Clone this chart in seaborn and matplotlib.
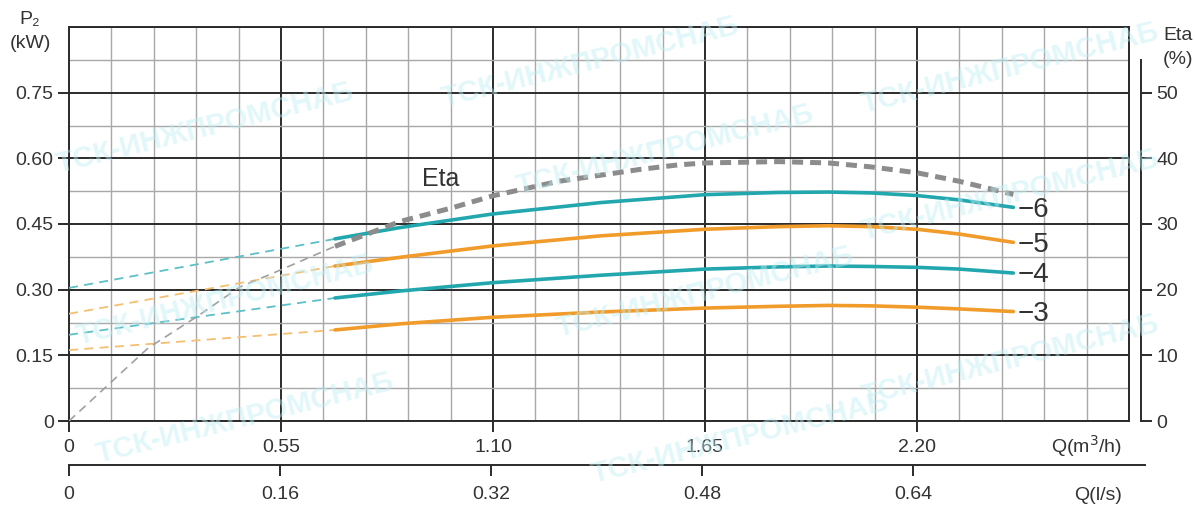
import numpy as np
import matplotlib
matplotlib.use("Agg")
import matplotlib.pyplot as plt
import seaborn as sns

# ---------------- data ----------------
q_curve = [0.69, 0.86, 1.10, 1.38, 1.65, 1.84, 1.97, 2.08, 2.20, 2.31, 2.45]
p2_6 = [0.416, 0.442, 0.473, 0.499, 0.517, 0.522, 0.523, 0.521, 0.515, 0.505, 0.488]
p2_5 = [0.354, 0.374, 0.400, 0.423, 0.438, 0.444, 0.446, 0.444, 0.438, 0.427, 0.408]
p2_4 = [0.281, 0.297, 0.316, 0.333, 0.347, 0.352, 0.354, 0.353, 0.351, 0.347, 0.338]
p2_3 = [0.208, 0.222, 0.237, 0.249, 0.258, 0.262, 0.264, 0.263, 0.260, 0.256, 0.250]

q_ext = [0.0, 0.69]
ext_6 = [0.304, 0.416]
ext_5 = [0.245, 0.354]
ext_4 = [0.197, 0.281]
ext_3 = [0.162, 0.208]

q_eta = [0.69, 0.86, 0.99, 1.10, 1.27, 1.48, 1.58, 1.65, 1.84, 1.97, 2.08, 2.20, 2.31, 2.45]
eta = [26.6, 30.4, 32.4, 34.3, 36.5, 38.3, 39.0, 39.3, 39.5, 39.3, 38.7, 37.8, 36.5, 34.5]
q_eta_ext = [0.0, 0.205, 0.332, 0.443, 0.521, 0.69]
eta_ext = [0.0, 11.1, 15.9, 20.4, 22.3, 26.6]

curve_labels = ["−6", "−5", "−4", "−3"]
x_ticks_m3h = [0, 0.55, 1.10, 1.65, 2.20]
x_ticklabels_m3h = ["0", "0.55", "1.10", "1.65", "2.20"]
y_ticks_kw = [0, 0.15, 0.30, 0.45, 0.60, 0.75]
y_ticklabels_kw = ["0", "0.15", "0.30", "0.45", "0.60", "0.75"]
eta_ticks = [0, 10, 20, 30, 40, 50]
ls_ticks = [0, 0.16, 0.32, 0.48, 0.64]
ls_ticklabels = ["0", "0.16", "0.32", "0.48", "0.64"]

# ---------------- style ----------------
sns.set_theme(style="white")
plt.rcParams['font.family'] = ['Liberation Sans', 'DejaVu Sans']

TEAL = "#23a7ae"
ORANGE = "#f09b2a"
TEAL_L = "#5cc0c6"
ORANGE_L = "#f5bf72"
GRAY = "#8c8c8c"
DARK = "#2b2b2b"
TXT = "#333333"
FS = 14

W, H = 1195, 508
fig = plt.figure(figsize=(W / 100, H / 100), dpi=100)
fig.patch.set_facecolor("white")

L, R, T, B = 69, 1129, 27, 421
ax = fig.add_axes([L / W, 1 - B / H, (R - L) / W, (B - T) / H])
ax.set_xlim(0, 2.75)
ax.set_ylim(0, 0.90)

# grid
for xv in np.arange(0, 2.7501, 0.11):
    major = abs((xv / 0.55) - round(xv / 0.55)) < 1e-6
    ax.axvline(xv, color=DARK if major else "#a8a8a8", lw=1.4 if major else 1.0, zorder=1)
for yv in np.arange(0, 0.9001, 0.075):
    major = abs((yv / 0.15) - round(yv / 0.15)) < 1e-6
    ax.axhline(yv, color=DARK if major else "#a8a8a8", lw=1.4 if major else 1.0, zorder=1)

for s in ax.spines.values():
    s.set_color(DARK)
    s.set_linewidth(1.4)

ax.set_xticks(x_ticks_m3h)
ax.set_xticklabels(x_ticklabels_m3h)
ax.set_yticks(y_ticks_kw)
ax.set_yticklabels(y_ticklabels_kw)
ax.tick_params(axis="both", direction="out", length=8, width=1.4, color=DARK,
               labelsize=FS, labelcolor=TXT, bottom=True, left=True)
ax.tick_params(axis="x", pad=5)
ax.tick_params(axis="y", pad=3)
ax.set_xlabel("")
ax.set_ylabel("")

# dashed extensions
for yy, col in [(ext_6, TEAL_L), (ext_5, ORANGE_L), (ext_4, TEAL_L), (ext_3, ORANGE_L)]:
    sns.lineplot(x=q_ext, y=yy, ax=ax, color=col, lw=1.3, linestyle=(0, (5, 3.5)), zorder=3)

# main curves
curves = [(p2_6, TEAL), (p2_5, ORANGE), (p2_4, TEAL), (p2_3, ORANGE)]
for (yy, col), lab in zip(curves, curve_labels):
    sns.lineplot(x=q_curve, y=yy, ax=ax, color=col, lw=2.6, zorder=4, sort=False,
                 estimator=None)
    ax.text(q_curve[-1] + 0.012, yy[-1] - 0.005, lab, fontsize=20, color=TXT,
            va="center", ha="left", zorder=6)

ax.text(0.963, 0.553, "Eta", fontsize=18, color=TXT, ha="center", va="center", zorder=6)

# efficiency axis
ax_e = ax.twinx()
ax_e.set_ylim(0, 60)
ax_e.set_xlim(0, 2.75)
for k, s in ax_e.spines.items():
    s.set_visible(k == "right")
ax_e.spines["right"].set_position(("axes", (1141 - L) / (R - L)))
ax_e.spines["right"].set_bounds(0, 55)
ax_e.spines["right"].set_color(DARK)
ax_e.spines["right"].set_linewidth(1.4)
ax_e.set_yticks(eta_ticks)
ax_e.tick_params(axis="y", direction="out", length=8, width=1.4, color=DARK,
                 labelsize=FS, labelcolor=TXT, pad=3, right=True)
ax_e.grid(False)

sns.lineplot(x=q_eta_ext, y=eta_ext, ax=ax_e, color="#a0a0a0", lw=1.2,
             linestyle=(0, (5, 3.5)), zorder=3)
sns.lineplot(x=q_eta, y=eta, ax=ax_e, color=GRAY, lw=3.6, linestyle=(0, (2.2, 1.4)),
             zorder=5, sort=False, estimator=None)
ax_e.set_ylabel("")

# second flow axis (l/s)
ax_ls = fig.add_axes([L / W, 1 - 465 / H, (1145 - L) / W, 0.0001])
ax_ls.set_xlim(0, (1145 - L) / 211 * 0.16)
ax_ls.set_ylim(0, 1)
for k, s in ax_ls.spines.items():
    s.set_visible(k == "bottom")
ax_ls.spines["bottom"].set_color(DARK)
ax_ls.spines["bottom"].set_linewidth(1.4)
ax_ls.set_yticks([])
ax_ls.set_xticks(ls_ticks)
ax_ls.set_xticklabels(ls_ticklabels)
ax_ls.tick_params(axis="x", direction="out", length=8, width=1.4, color=DARK,
                  labelsize=FS, labelcolor=TXT, pad=7, bottom=True)
ax_ls.patch.set_alpha(0)

# axis titles
fig.text(30 / W, 1 - 19 / H, "P₂", fontsize=FS, color=TXT, ha="center", va="center")
fig.text(30 / W, 1 - 44 / H, "(kW)", fontsize=FS, color=TXT, ha="center", va="center")
fig.text(1163 / W, 1 - 36 / H, "Eta", fontsize=FS, color=TXT, ha="left", va="center")
fig.text(1163 / W, 1 - 60 / H, "(%)", fontsize=FS, color=TXT, ha="left", va="center")
fig.text(1122 / W, 1 - 446 / H, "Q(m$^3$/h)", fontsize=FS, color=TXT, ha="right", va="center")
fig.text(1122 / W, 1 - 495 / H, "Q(l/s)", fontsize=FS, color=TXT, ha="right", va="center")

# watermark
wm = "ТСК-ИНЖПРОМСНАБ"
for (px, py) in [(205, 128), (590, 62), (665, 150), (1010, 68), (225, 300), (705, 292),
                 (1010, 195), (245, 418), (740, 438), (1010, 360)]:
    fig.text(px / W, 1 - py / H, wm, fontsize=21, fontweight="bold", color="#bfeef2",
             alpha=0.45, rotation=14, ha="center", va="center", zorder=10)

fig.savefig("out.png", dpi=100, facecolor="white")
